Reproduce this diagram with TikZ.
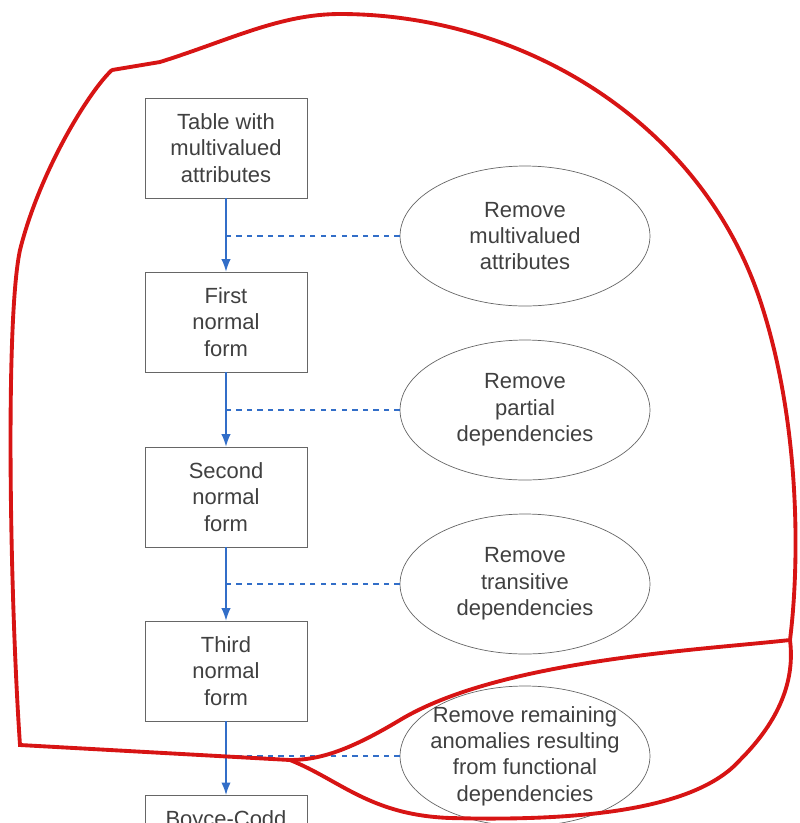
\documentclass[tikz,border=0pt]{standalone}
\usepackage{fontspec}
\setmainfont{Liberation Sans}
\usetikzlibrary{positioning,arrows.meta,shapes.geometric}
\definecolor{nfblue}{RGB}{50,110,200}
\definecolor{nfred}{RGB}{215,20,20}
\begin{document}
\begin{tikzpicture}[x=0.02cm,y=-0.02cm,
		nfbox/.style={draw=gray!80!black,minimum width=3.24cm,minimum height=2cm,align=center,font=\fontsize{12.5}{15}\selectfont,text=black!75},
		nfstep/.style={ellipse,draw=gray!80!black,minimum width=5cm,minimum height=2.8cm,inner sep=0pt,align=center,font=\fontsize{12.5}{15}\selectfont,text=black!75},
		flow/.style={-{Latex[length=2.5mm]},nfblue,thick},
		link/.style={nfblue,dashed,thick}
		]
		\useasboundingbox (0,0) rectangle (800,823);
		\clip (0,0) rectangle (800,823);
		\node[nfbox](T0) at (226,148){Table with\\multivalued\\attributes};
		\node[nfbox](T1) at (226,322){First\\normal\\form};
		\node[nfbox](T2) at (226,497){Second\\normal\\form};
		\node[nfbox](T3) at (226,671){Third\\normal\\form};
		\node[nfbox,anchor=north](T4) at (226,795){Boyce-Codd\\normal\\form};
		\node[nfstep](R1) at (525,236){Remove\\multivalued\\attributes};
		\node[nfstep](R2) at (525,410){Remove\\partial\\dependencies};
		\node[nfstep](R3) at (525,584){Remove\\transitive\\dependencies};
		\node[nfstep,inner sep=-9pt](R4) at (525,756){Remove remaining\\anomalies resulting\\from functional\\dependencies};
		\foreach \a/\b/\r in {T0/T1/R1,T1/T2/R2,T2/T3/R3,T3/T4/R4}{
			\draw[flow] (\a) -- (\b);
			\draw[link] (\r.west) -- (\r.west -| \a.south);
		}
		% freehand outline
		\draw[nfred,line width=2.2pt,line cap=round]
			(112,70) -- (160,62) .. controls (230,40) and (280,14) .. (340,14)
			.. controls (520,14) and (700,120) .. (760,300)
			.. controls (800,420) and (800,560) .. (790,640)
			.. controls (700,650) and (500,660) .. (400,720)
			.. controls (350,750) and (320,760) .. (290,760)
			-- (20,745) .. controls (10,600) and (5,320) .. (20,250)
			.. controls (40,170) and (90,90) .. (112,70);
		\draw[nfred,line width=2.2pt,line cap=round]
			(290,760) .. controls (340,780) and (370,815) .. (450,818)
			.. controls (600,822) and (700,805) .. (740,760)
			.. controls (780,720) and (795,680) .. (790,640);
	\end{tikzpicture}
\end{document}
